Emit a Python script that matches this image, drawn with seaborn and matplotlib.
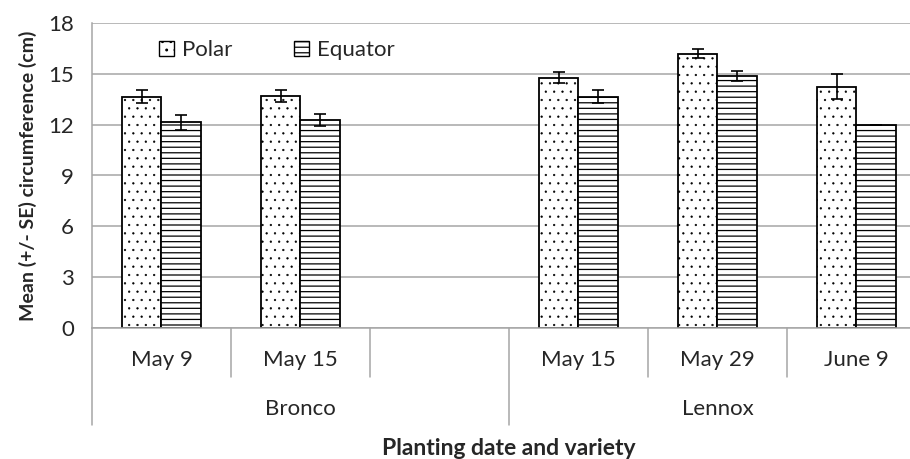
"""
Mean circumference by planting date and variety (Polar vs Equator).
"""
import numpy as np
import pandas as pd
import seaborn as sns
import matplotlib.pyplot as plt
import matplotlib.patches as mpatches
import matplotlib.transforms as mtransforms

# ── Dados ──────────────────────────────────────────────────────
SLOTS = ["B May 9", "B May 15", "B blank", "L May 15", "L May 29", "L June 9"]
SLOT_LABELS = ["May 9", "May 15", "", "May 15", "May 29", "June 9"]
DATA_SLOTS = ["B May 9", "B May 15", "L May 15", "L May 29", "L June 9"]
GROUPS = ["Bronco", "Lennox"]
HUES = ["Polar", "Equator"]

polar = [13.65, 13.70, 14.78, 16.19, 14.23]
polar_se = [0.40, 0.36, 0.35, 0.25, 0.74]
equator = [12.14, 12.26, 13.64, 14.88, 11.98]
equator_se = [0.43, 0.35, 0.38, 0.28, 0.02]

Y_TICKS = [0, 3, 6, 9, 12, 15, 18]

df = pd.DataFrame({
    "slot": DATA_SLOTS * 2,
    "variety": ["Polar"] * len(DATA_SLOTS) + ["Equator"] * len(DATA_SLOTS),
    "value": polar + equator,
    "se": polar_se + equator_se,
})

GRAY = "#a6a6a6"
HATCHES = {"Polar": "..", "Equator": "---"}
HATCH_LW = {"Polar": 0.4, "Equator": 0.9}

sns.set_style("white")
plt.rcParams["font.family"] = ["Lato", "DejaVu Sans"]
plt.rcParams["hatch.color"] = "#222222"
plt.rcParams["hatch.linewidth"] = 0.9

fig = plt.figure(figsize=(9.1, 4.59), dpi=100)
ax = fig.add_axes([92 / 910, 131 / 459, 818 / 910, 305 / 459])

sns.barplot(
    data=df, x="slot", y="value", hue="variety",
    order=SLOTS, hue_order=HUES, width=0.575,
    errorbar=None, ax=ax, legend=False,
    edgecolor="black", linewidth=1.3,
)

# hachuras e barras de erro
se_lookup = {(r.slot, r.variety): r.se for r in df.itertuples()}
for cont, hue in zip(ax.containers, HUES):
    for bar in cont:
        bar.set_facecolor("white")
        bar.set_hatch(HATCHES[hue])
        if hasattr(bar, "set_hatch_linewidth"):
            bar.set_hatch_linewidth(HATCH_LW[hue])
        cx = bar.get_x() + bar.get_width() / 2
        slot = SLOTS[int(round(cx))]
        ax.errorbar(cx, bar.get_height(), yerr=se_lookup[(slot, hue)],
                    fmt="none", ecolor="black", elinewidth=1.2,
                    capsize=4, capthick=1.2, zorder=5)

ax.set_ylim(0, 18)
ax.set_yticks(Y_TICKS)
ax.set_xlim(-0.5, 5.385)
ax.yaxis.grid(True, color=GRAY, linewidth=1.1)
ax.set_axisbelow(True)
for side in ["top", "right"]:
    ax.spines[side].set_visible(False)
for side in ["left", "bottom"]:
    ax.spines[side].set_color(GRAY)
    ax.spines[side].set_linewidth(1.1)

ax.tick_params(axis="y", length=6, color=GRAY, width=1.1, pad=7, labelsize=16)
ax.set_xticks(range(len(SLOTS)))
ax.set_xticklabels(SLOT_LABELS)
ax.tick_params(axis="x", length=0, pad=16, labelsize=16)
ax.set_xlabel("")
ax.set_ylabel("Mean (+/- SE) circumference (cm)", fontsize=14,
              fontweight="bold", labelpad=8)

# divisórias do eixo categórico
trans = mtransforms.blended_transform_factory(ax.transData, ax.transAxes)
for x in [-0.5, 2.5]:
    ax.plot([x, x], [0, -0.318], transform=trans, color=GRAY, lw=1.1, clip_on=False)
for x in [0.5, 1.5, 3.5, 4.5]:
    ax.plot([x, x], [0, -0.16], transform=trans, color=GRAY, lw=1.1, clip_on=False)

for g, cx in zip(GROUPS, [1.0, 4.0]):
    ax.text(cx, -0.266, g, transform=trans, ha="center", va="center", fontsize=16)
ax.text(2.5, -0.395, "Planting date and variety", transform=trans,
        ha="center", va="center", fontsize=16.5, fontweight="bold")

handles = [mpatches.Patch(facecolor="white", edgecolor="black", linewidth=1.0,
                          hatch=HATCHES[h], label=h) for h in HUES]
ax.legend(handles=handles, loc="center left", bbox_to_anchor=(0.068, 0.911),
          ncol=2, frameon=False, fontsize=16, handlelength=0.7, handleheight=0.7,
          handletextpad=0.35, columnspacing=2.75, borderpad=0)

fig.savefig("out.png", dpi=100)
